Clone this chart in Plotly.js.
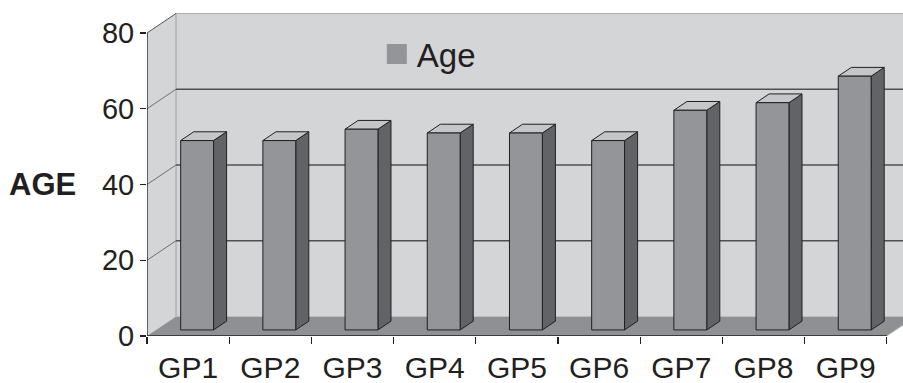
<!DOCTYPE html>
<html>
<head>
<meta charset="utf-8">
<script src="https://cdn.plot.ly/plotly-3.0.1.min.js"></script>
<style>
  html, body { margin: 0; padding: 0; background: #ffffff; }
  #chart { width: 903px; height: 383px; }
</style>
</head>
<body>
<div id="chart"></div>
<script>
// Chart data
const categories = ['GP1', 'GP2', 'GP3', 'GP4', 'GP5', 'GP6', 'GP7', 'GP8', 'GP9'];
const ages = [50, 50, 53, 52, 52, 50, 58, 60, 67];
const yTickValues = [0, 20, 40, 60, 80];
const seriesName = 'Age';

// 3-D projection: depth shift expressed in axis units (x: categories, y: value)
const DEPTH_X = 0.353;
const DEPTH_Y = 5.15;
const BAR_FRONT = 0.31;   // depth fraction of bar front face
const BAR_BACK = 0.76;    // depth fraction of bar back face
const BAR_HALF = 0.2;     // half bar width in category units
const Y_MAX = yTickValues[yTickValues.length - 1];
const N = categories.length;
const X_RANGE = [0, 9.197];
const Y_RANGE = [0, 87.39];

const COL = {
  wall: '#d4d5d7',
  floor: '#8f9093',
  front: '#939598',
  side: '#626366',
  top: '#c5c6c8',
  edge: '#231f20',
  grid: '#505050',
  wallEdge: '#a9aaac',
  text: '#231f20'
};

function proj(x, y, d) {
  return [x + d * DEPTH_X, y + d * DEPTH_Y];
}

function polygon(points, fill, lineColor, lineWidth) {
  const xs = points.map(p => p[0]);
  const ys = points.map(p => p[1]);
  xs.push(xs[0]); ys.push(ys[0]);
  return {
    type: 'scatter', mode: 'lines', x: xs, y: ys,
    fill: 'toself', fillcolor: fill,
    line: { color: lineColor || fill, width: lineWidth === undefined ? 0 : lineWidth },
    hoverinfo: 'skip', showlegend: false
  };
}

function segment(points, color, width) {
  return {
    type: 'scatter', mode: 'lines',
    x: points.map(p => p[0]), y: points.map(p => p[1]),
    line: { color: color, width: width },
    hoverinfo: 'skip', showlegend: false
  };
}

const traces = [];
const xEnd = X_RANGE[1] + 1;

// Left side wall
traces.push(polygon([proj(0, 0, 0), proj(0, 0, 1), proj(0, Y_MAX, 1), proj(0, Y_MAX, 0)], COL.wall));
// Back wall
traces.push(polygon([proj(0, 0, 1), proj(xEnd, 0, 1), proj(xEnd, Y_MAX, 1), proj(0, Y_MAX, 1)], COL.wall));
// Floor
traces.push(polygon([proj(0, 0, 0), proj(N, 0, 0), proj(N, 0, 1), proj(0, 0, 1)], COL.floor));

// Back wall left edge and top edge
traces.push(segment([proj(0, 0, 1), proj(0, Y_MAX, 1), proj(xEnd, Y_MAX, 1)], COL.wallEdge, 1.2));
// Side wall top diagonal
traces.push(segment([proj(0, Y_MAX, 0), proj(0, Y_MAX, 1)], '#555555', 1));

// Gridlines: diagonal across the side wall, then along the back wall
yTickValues.forEach(v => {
  if (v === 0 || v === Y_MAX) return;
  traces.push(segment([proj(0, v, 0), proj(0, v, 1)], '#555555', 0.8));
  traces.push(segment([proj(0, v, 1), proj(xEnd, v, 1)], COL.grid, 1.3));
});

// Floor right edge
traces.push(segment([proj(N, 0, 0), proj(N, 0, 1)], '#b8b9bb', 1));

// Bars: side face, top face, front face
ages.forEach((h, i) => {
  const x0 = i + 0.5 - BAR_HALF;
  const x1 = i + 0.5 + BAR_HALF;
  traces.push(polygon([proj(x1, 0, BAR_FRONT), proj(x1, 0, BAR_BACK), proj(x1, h, BAR_BACK), proj(x1, h, BAR_FRONT)],
    COL.side, COL.edge, 1));
  traces.push(polygon([proj(x0, h, BAR_FRONT), proj(x1, h, BAR_FRONT), proj(x1, h, BAR_BACK), proj(x0, h, BAR_BACK)],
    COL.top, COL.edge, 1));
  traces.push(polygon([proj(x0, 0, BAR_FRONT), proj(x1, 0, BAR_FRONT), proj(x1, h, BAR_FRONT), proj(x0, h, BAR_FRONT)],
    COL.front, COL.edge, 1));
});

// Front axis lines (value axis and category axis edge)
traces.push(segment([proj(0, Y_MAX, 0), proj(0, 0, 0), proj(N, 0, 0)], COL.edge, 1.3));

// Legend entry for the series; it sits on the labelled category axis
traces.push({
  type: 'scatter', mode: 'markers', x: [null], y: [null], name: seriesName,
  xaxis: 'x2', yaxis: 'y',
  marker: { symbol: 'square', size: 16, color: COL.front, line: { color: COL.front, width: 4 } },
  hoverinfo: 'skip', showlegend: true
});

const font = 'Liberation Sans, Arial, sans-serif';
const layout = {
  width: 903, height: 383,
  margin: { l: 147, r: 0, t: 5, b: 47 },
  paper_bgcolor: '#ffffff', plot_bgcolor: 'rgba(0,0,0,0)',
  font: { family: font, color: COL.text, size: 29 },
  showlegend: true,
  legend: {
    x: 0.304, y: 0.852, xanchor: 'left', yanchor: 'middle',
    bgcolor: 'rgba(0,0,0,0)', font: { size: 33, color: COL.text }
  },
  xaxis: {
    range: X_RANGE, showgrid: false, zeroline: false, showline: false,
    tickmode: 'array', tickvals: categories.map((c, i) => i).concat([N]),
    ticks: 'outside', ticklen: 7, tickwidth: 1.2, tickcolor: COL.edge,
    showticklabels: false, fixedrange: true
  },
  xaxis2: {
    overlaying: 'x', anchor: 'y', side: 'bottom',
    range: X_RANGE, showgrid: false, zeroline: false, showline: false,
    tickmode: 'array', tickvals: categories.map((c, i) => i + 0.5), ticktext: categories,
    ticks: '', ticklabelstandoff: 11, tickfont: { size: 30, color: COL.text }, fixedrange: true
  },
  yaxis: {
    range: Y_RANGE, showgrid: false, zeroline: false, showline: false,
    tickmode: 'array', tickvals: yTickValues,
    ticks: 'outside', ticklen: 6, tickwidth: 1.2, tickcolor: COL.edge,
    tickfont: { size: 29, color: COL.text }, fixedrange: true
  },
  annotations: [{
    text: '<b>AGE</b>', xref: 'paper', yref: 'y', x: 0, y: 40,
    xanchor: 'right', yanchor: 'middle', xshift: -69, showarrow: false,
    font: { family: font, size: 31, color: COL.text }
  }]
};

Plotly.newPlot('chart', traces, layout, { staticPlot: true, displayModeBar: false });
</script>
</body>
</html>
